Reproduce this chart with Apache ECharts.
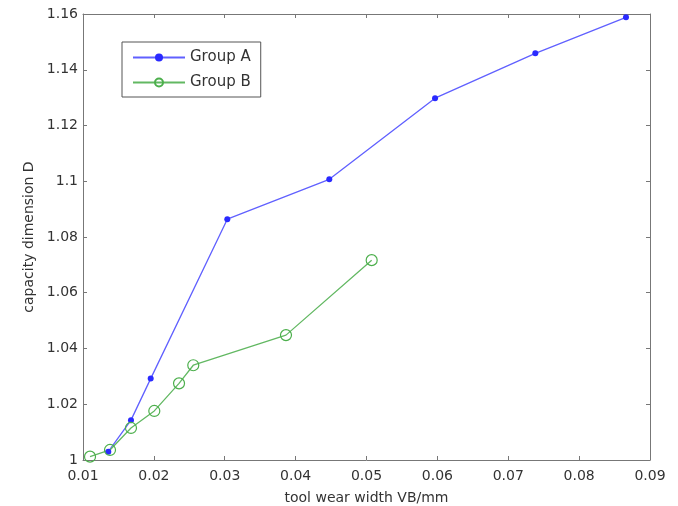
<!DOCTYPE html>
<html>
<head>
<meta charset="utf-8">
<script src="https://cdn.jsdelivr.net/npm/echarts@6/dist/echarts.min.js"></script>
<style>html,body{margin:0;padding:0;background:#fff}#c{width:678px;height:506px}</style>
</head>
<body>
<div id="c"></div>
<script>
const groupA_x = [0.01357, 0.01677, 0.01955, 0.03036, 0.04475, 0.05967, 0.07382, 0.08661];
const groupA_y = [1.003, 1.0143, 1.0292, 1.0864, 1.1007, 1.1298, 1.1459, 1.1588];
const groupB_x = [0.01099, 0.01381, 0.01677, 0.02006, 0.02355, 0.02556, 0.03864, 0.05073];
const groupB_y = [1.0012, 1.0036, 1.0115, 1.0176, 1.0275, 1.034, 1.0448, 1.0717];
const xTicks = [0.01, 0.02, 0.03, 0.04, 0.05, 0.06, 0.07, 0.08, 0.09];
const yTicks = [1, 1.02, 1.04, 1.06, 1.08, 1.1, 1.12, 1.14, 1.16];

const font = '"DejaVu Sans", "Liberation Sans", Arial, sans-serif';
const axisCol = '#777';
const txtCol = '#333';

const chart = echarts.init(document.getElementById('c'), null, {renderer: 'canvas'});
const fmtX = v => { const r = Math.round(v * 100) / 100; return xTicks.some(t => Math.abs(t - r) < 1e-9) ? String(r) : ''; };
const fmtY = v => { const r = Math.round(v * 100) / 100; return yTicks.some(t => Math.abs(t - r) < 1e-9) ? String(r) : ''; };

const baseAxis = {
  axisLine: {show: true, lineStyle: {color: axisCol, width: 1}},
  axisTick: {show: true, inside: true, length: 4, lineStyle: {color: axisCol}},
  splitLine: {show: false}
};

chart.setOption({
  animation: false,
  backgroundColor: '#fff',
  grid: {left: 83, right: 28, top: 14, bottom: 46, containLabel: false, outerBoundsMode: 'none'},
  legend: {
    left: 122, top: 42, orient: 'vertical',
    borderColor: '#555', borderWidth: 1, backgroundColor: '#fff',
    padding: [7, 10, 6, 10],
    itemWidth: 52, itemHeight: 10, itemGap: 8,
    textStyle: {fontFamily: font, fontSize: 15, color: txtCol, lineHeight: 17},
    data: ['Group A', 'Group B']
  },
  xAxis: [
    Object.assign({}, baseAxis, {
      type: 'value', min: 0.01, max: 0.09, interval: 0.01, position: 'bottom',
      name: 'tool wear width VB/mm', nameLocation: 'middle', nameGap: 31,
      nameTextStyle: {fontFamily: font, fontSize: 14, color: txtCol},
      axisLabel: {fontFamily: font, fontSize: 14, color: txtCol, margin: 9, formatter: fmtX}
    }),
    Object.assign({}, baseAxis, {
      type: 'value', min: 0.01, max: 0.09, interval: 0.01, position: 'top',
      axisLabel: {show: false}
    })
  ],
  yAxis: [
    Object.assign({}, baseAxis, {
      type: 'value', min: 1, max: 1.16, interval: 0.02, position: 'left',
      name: 'capacity dimension D', nameLocation: 'middle', nameGap: 47,
      nameTextStyle: {fontFamily: font, fontSize: 14, color: txtCol},
      axisLabel: {fontFamily: font, fontSize: 14, color: txtCol, margin: 5, formatter: fmtY}
    }),
    Object.assign({}, baseAxis, {
      type: 'value', min: 1, max: 1.16, interval: 0.02, position: 'right',
      axisLabel: {show: false}
    })
  ],
  series: [
    {
      name: 'Group A', type: 'line', xAxisIndex: 0, yAxisIndex: 0,
      data: groupA_x.map((x, i) => [x, groupA_y[i]]),
      symbol: 'circle', symbolSize: 6,
      lineStyle: {color: '#6060ff', width: 1.3},
      itemStyle: {color: '#2a2aff'}
    },
    {
      name: 'Group B', type: 'line', xAxisIndex: 0, yAxisIndex: 0,
      data: groupB_x.map((x, i) => [x, groupB_y[i]]),
      symbol: 'circle', symbolSize: 11,
      lineStyle: {color: '#62b862', width: 1.3},
      itemStyle: {color: 'rgba(255,255,255,0)', borderColor: '#4caf4c', borderWidth: 1.2}
    }
  ]
});
</script>
</body>
</html>
